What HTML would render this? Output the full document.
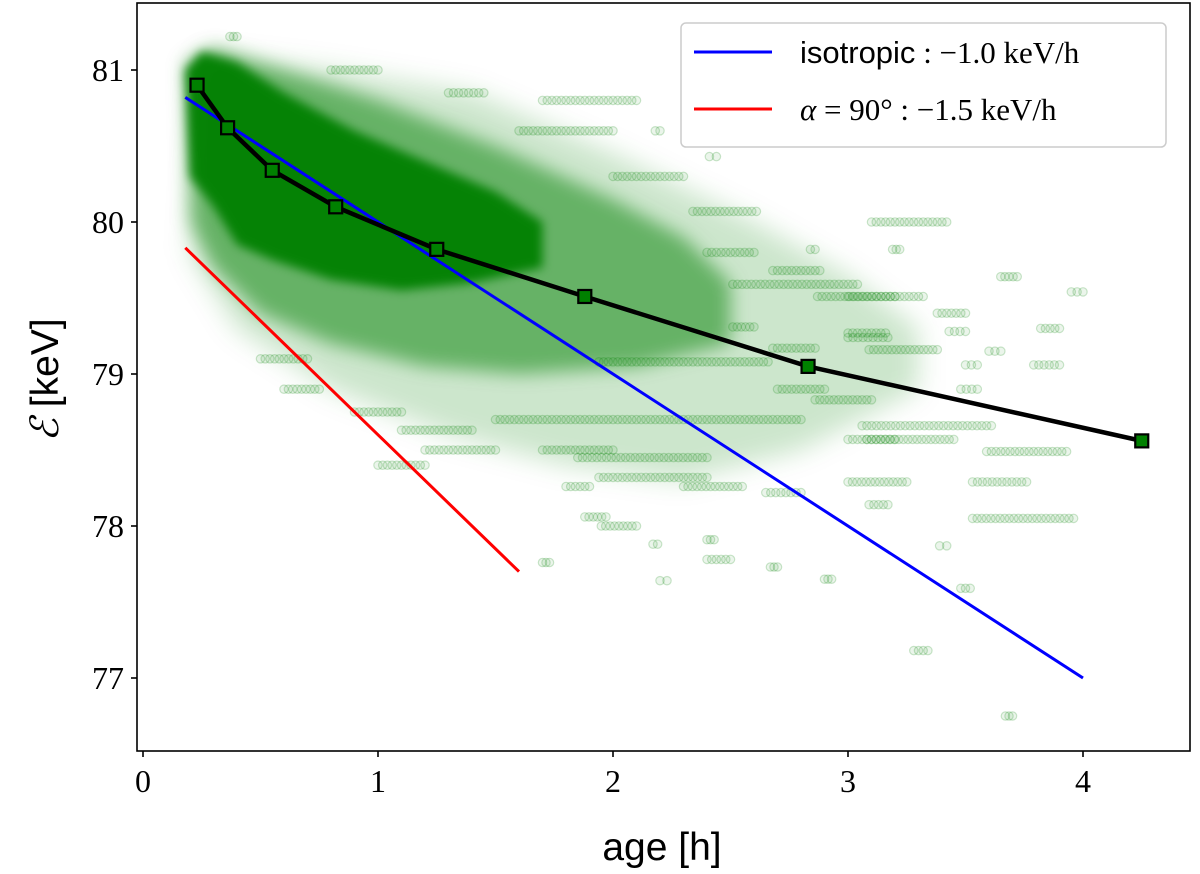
<!DOCTYPE html>
<html><head><meta charset="utf-8"><style>
html,body{margin:0;padding:0;background:#fff;}
svg{display:block;}
.tick{font-family:"Liberation Serif","DejaVu Serif",serif;font-size:32px;fill:#000;}
.lab{font-family:"Liberation Sans","DejaVu Sans",sans-serif;font-size:39px;fill:#000;}
.leg{font-family:"Liberation Serif","DejaVu Serif",serif;font-size:31px;fill:#000;}
</style></head><body>
<svg id="chart" width="1200" height="874" viewBox="0 0 1200 874" xmlns="http://www.w3.org/2000/svg">
<defs>
<filter id="blur" x="-20%" y="-20%" width="140%" height="140%"><feGaussianBlur stdDeviation="13"/></filter>
<filter id="blurm" x="-20%" y="-20%" width="140%" height="140%"><feGaussianBlur stdDeviation="9"/></filter>
<filter id="blur2" x="-20%" y="-20%" width="140%" height="140%"><feGaussianBlur stdDeviation="5"/></filter>
<clipPath id="clip"><rect x="137" y="3" width="1053" height="748"/></clipPath>
</defs>
<g id="density" clip-path="url(#clip)"></g>
<g id="points" clip-path="url(#clip)"></g>
<g id="lines"></g>
<rect x="137" y="3" width="1053" height="748" fill="none" stroke="#000" stroke-width="1.6"/>
<g id="axes"></g>
<text class="lab" x="662" y="860" text-anchor="middle">age [h]</text>
<text class="lab" transform="translate(58,380) rotate(-90)" text-anchor="middle"><tspan font-family="'DejaVu Serif',serif" font-style="italic">ℰ</tspan> [keV]</text>
<g>
<rect x="681" y="23" width="485" height="124" rx="5" fill="#fff" fill-opacity="0.85" stroke="#ccc" stroke-width="1.5"/>
<line x1="694" y1="52" x2="772" y2="52" stroke="#0000ff" stroke-width="3"/>
<text class="leg" x="800" y="63"><tspan font-family="'Liberation Sans',sans-serif">isotropic</tspan> :  −1.0 keV/h</text>
<line x1="694" y1="109" x2="772" y2="109" stroke="#ff0000" stroke-width="3"/>
<text class="leg" x="800" y="120"><tspan font-style="italic">α</tspan> = 90° :  −1.5 keV/h</text>
</g>
</svg>
<script>
const xTicks=[0,1,2,3,4];
const yTicks=[77,78,79,80,81];
const binAge=[0.23,0.36,0.55,0.82,1.25,1.88,2.83,4.25];
const binE=[80.9,80.62,80.34,80.1,79.82,79.51,79.05,78.56];
const isoAge=[0.18,4.0];
const isoE=[80.82,77.0];
const perpAge=[0.18,1.6];
const perpE=[79.83,77.7];
// dense cloud envelopes: [age, energy]
const outerHalo=[[0.25,81.1],[0.8,81.0],[1.4,80.85],[2.0,80.45],[2.6,80.0],[3.0,79.65],[3.3,79.3],[3.3,78.9],[2.8,78.5],[2.3,78.3],[1.8,78.4],[1.3,78.6],[0.8,78.9],[0.4,79.3],[0.2,79.8]];
const midHalo=[[0.18,81.05],[0.3,81.15],[0.6,81.0],[1.0,80.8],[1.5,80.5],[2.0,80.15],[2.3,79.9],[2.5,79.6],[2.5,79.2],[2.1,79.05],[1.6,79.0],[1.2,79.05],[0.8,79.2],[0.5,79.4],[0.3,79.7],[0.2,80.0]];
const core=[[0.18,81.0],[0.25,81.12],[0.4,81.05],[0.6,80.85],[0.9,80.6],[1.2,80.4],[1.5,80.2],[1.7,80.0],[1.7,79.7],[1.4,79.6],[1.1,79.55],[0.8,79.62],[0.55,79.75],[0.4,79.85],[0.3,80.1],[0.2,80.3]];
// sparse point clusters: [ageStart, ageEnd, energy]
const clusters=[[3.1,3.42,80.0],[3.19,3.22,79.82],[3.65,3.72,79.64],[3.95,4.0,79.54],[3.0,3.32,79.51],[3.38,3.5,79.4],[3.43,3.5,79.28],[3.82,3.9,79.3],[3.0,3.16,79.27],[3.09,3.38,79.16],[3.6,3.65,79.15],[3.79,3.9,79.06],[3.5,3.55,79.06],[3.48,3.55,78.9],[3.06,3.61,78.66],[3.08,3.45,78.57],[3.59,3.93,78.49],[3.0,3.25,78.29],[3.53,3.76,78.29],[3.09,3.17,78.14],[3.53,3.96,78.05],[3.39,3.42,77.87],[3.48,3.52,77.59],[3.28,3.34,77.18],[3.67,3.7,76.75],[2.34,2.61,80.07],[2.84,2.86,79.82],[2.68,2.88,79.68],[2.51,3.04,79.59],[2.87,3.2,79.51],[2.51,2.6,79.31],[3.0,3.17,79.24],[2.68,2.86,79.17],[1.94,2.66,79.08],[2.7,2.9,78.9],[2.86,3.1,78.83],[1.5,2.8,78.7],[1.1,1.4,78.63],[3.0,3.2,78.57],[1.2,1.5,78.5],[1.7,2.0,78.5],[1.85,2.4,78.45],[1.94,2.4,78.32],[1.8,1.9,78.26],[2.3,2.55,78.26],[2.65,2.8,78.22],[1.88,1.97,78.06],[1.95,2.1,78.0],[2.4,2.43,77.91],[2.17,2.19,77.88],[2.4,2.5,77.78],[1.7,1.73,77.76],[2.67,2.7,77.73],[2.2,2.23,77.64],[2.9,2.93,77.65],[0.37,0.4,81.22],[0.8,1.0,81.0],[1.3,1.45,80.85],[1.7,2.1,80.8],[2.18,2.2,80.6],[2.41,2.44,80.43],[2.0,2.3,80.3],[0.5,0.7,79.1],[0.6,0.75,78.9],[0.9,1.1,78.75],[1.0,1.2,78.4],[2.4,2.6,79.8],[1.6,2.0,80.6]];
const NS='http://www.w3.org/2000/svg';
const X=a=>143+235*a, Y=e=>70+(81-e)*152;
function mk(tag,attrs,parent){const el=document.createElementNS(NS,tag);for(const k in attrs)el.setAttribute(k,attrs[k]);parent.appendChild(el);return el;}
const dens=document.getElementById('density');
function poly(pts,op,filt,name){
  const d='M'+pts.map(p=>X(p[0]).toFixed(1)+','+Y(p[1]).toFixed(1)).join('L')+'Z';
  const el=mk('path',{d:d,fill:'#008000','fill-opacity':op,filter:filt},dens);
  
  
}
poly(outerHalo,0.2,'url(#blur)','density-outer');
poly(midHalo,0.5,'url(#blurm)','density-mid');
poly(core,0.95,'url(#blur2)','density-core');
const pg=document.getElementById('points');
clusters.forEach(c=>{
  const n=Math.max(2,Math.round((c[1]-c[0])/0.02)+1);
  for(let i=0;i<n;i++){
    const a=c[0]+(c[1]-c[0])*i/(n-1);
    const el=mk('circle',{cx:X(a).toFixed(1),cy:Y(c[2]).toFixed(1),r:4.2,fill:'#008000','fill-opacity':0.08,stroke:'#008000','stroke-opacity':0.2,'stroke-width':1.2},pg);
    
    
  }
});
const lg=document.getElementById('lines');
let l=mk('line',{x1:X(isoAge[0]),y1:Y(isoE[0]),x2:X(isoAge[1]),y2:Y(isoE[1]),stroke:'#0000ff','stroke-width':3},lg);


l=mk('line',{x1:X(perpAge[0]),y1:Y(perpE[0]),x2:X(perpAge[1]),y2:Y(perpE[1]),stroke:'#ff0000','stroke-width':3},lg);


l=mk('polyline',{points:binAge.map((a,i)=>X(a)+','+Y(binE[i])).join(' '),fill:'none',stroke:'#000','stroke-width':4.5},lg);


binAge.forEach((a,i)=>{
  const m=mk('rect',{x:X(a)-6.5,y:Y(binE[i])-6.5,width:13,height:13,fill:'#008000',stroke:'#000','stroke-width':2.2},lg);
  
  
});
const ax=document.getElementById('axes');
xTicks.forEach(t=>{
  const tl=mk('line',{x1:X(t),y1:751,x2:X(t),y2:757,stroke:'#000','stroke-width':1.6},ax);
  
  
  const tx=mk('text',{x:X(t),y:792,'text-anchor':'middle',class:'tick'},ax);
  tx.textContent=t;
  
  
});
yTicks.forEach(t=>{
  const tl=mk('line',{x1:131,y1:Y(t),x2:137,y2:Y(t),stroke:'#000','stroke-width':1.6},ax);
  
  
  const tx=mk('text',{x:124,y:Y(t)+11,'text-anchor':'end',class:'tick'},ax);
  tx.textContent=t;
  
  
});
</script>
</body></html>
